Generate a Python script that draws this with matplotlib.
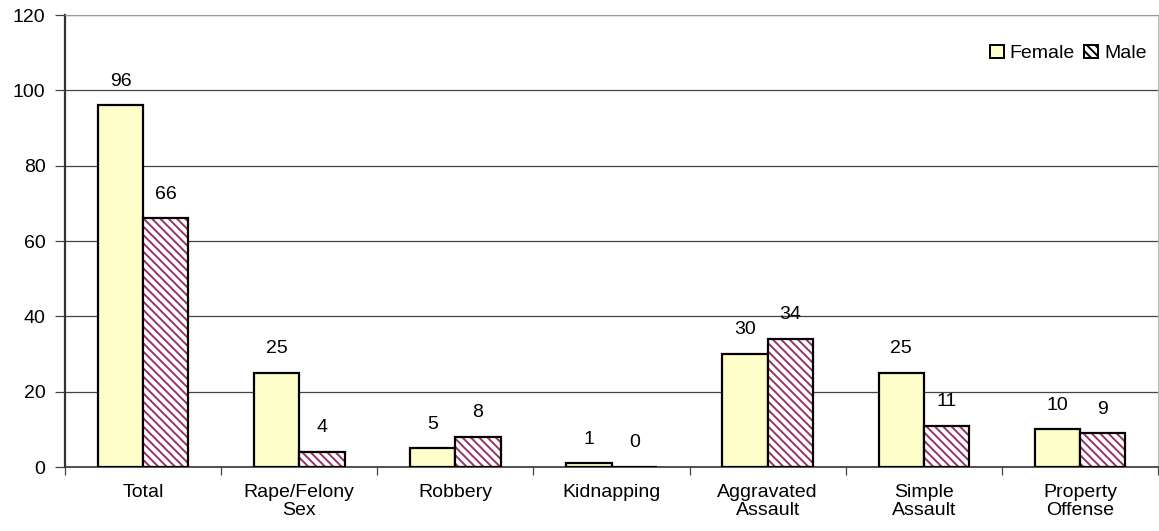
import numpy as np
import matplotlib
matplotlib.use('Agg')
import matplotlib.pyplot as plt
from matplotlib.patches import Patch

plt.rcParams.update({
    'font.family': ['Liberation Sans', 'DejaVu Sans'],
    'font.size': 14,
    'hatch.linewidth': 1.4,
})

categories = ['Total', 'Rape/Felony\nSex', 'Robbery', 'Kidnapping',
              'Aggravated\nAssault', 'Simple\nAssault', 'Property\nOffense']
female = [96, 25, 5, 1, 30, 25, 10]
male = [66, 4, 8, 0, 34, 11, 9]

FEMALE_C = '#FFFFCC'
MALE_C = '#993366'

fig = plt.figure(figsize=(11.59, 5.31), dpi=100)
ax = fig.add_axes([0.0561, 0.1205, 0.9431, 0.8512])

x = np.arange(len(categories))
w = 0.29
ax.bar(x - w/2, female, w, color=FEMALE_C, edgecolor='black', linewidth=1.6,
       zorder=3, label='Female')
# male: hatch drawn in purple, outline in black on top
ax.bar(x + w/2, male, w, color='white', edgecolor=MALE_C, hatch='\\\\\\\\',
       linewidth=0, zorder=3)
ax.bar(x + w/2, male, w, color='none', edgecolor='black', linewidth=1.6, zorder=4)

for xi, v in zip(x - w/2, female):
    ax.text(xi, v + 5.2, str(v), ha='center', va='baseline')
for xi, v in zip(x + w/2, male):
    ax.text(xi, v + 5.2, str(v), ha='center', va='baseline')

ax.set_xlim(-0.5, len(categories) - 0.5)
ax.set_ylim(0, 120)
ax.set_yticks(range(0, 121, 20))
ax.yaxis.grid(True, color='#444444', linewidth=0.9, zorder=0)
ax.set_axisbelow(True)

ax.set_xticks(x)
ax.set_xticklabels(categories, linespacing=1.1)
ax.tick_params(axis='x', length=0, pad=12)
ax.set_xticks(np.arange(-0.5, len(categories) + 0.5, 1), minor=True)
ax.tick_params(axis='x', which='minor', length=6, width=0.9, color='#444444')
ax.tick_params(axis='y', length=7, width=0.9, color='#444444', pad=7)

ax.spines['left'].set_color('#333333')
ax.spines['left'].set_linewidth(1.6)
ax.spines['bottom'].set_color('#333333')
ax.spines['bottom'].set_linewidth(1.2)
ax.spines['top'].set_color('#999999')
ax.spines['right'].set_color('#bbbbbb')

handles = [Patch(facecolor=FEMALE_C, edgecolor='black', linewidth=1.4),
           Patch(facecolor='white', edgecolor=MALE_C, hatch='\\\\\\\\', linewidth=1.4)]
leg = ax.legend(handles, ['Female', 'Male'], loc='upper right', ncol=2, frameon=False,
                handlelength=0.7, handleheight=0.7, handletextpad=0.3,
                columnspacing=0.5, borderaxespad=0.2, bbox_to_anchor=(1.0, 0.96))
leg.legend_handles[1].set_edgecolor('black')

fig.savefig('out.png', dpi=100)
